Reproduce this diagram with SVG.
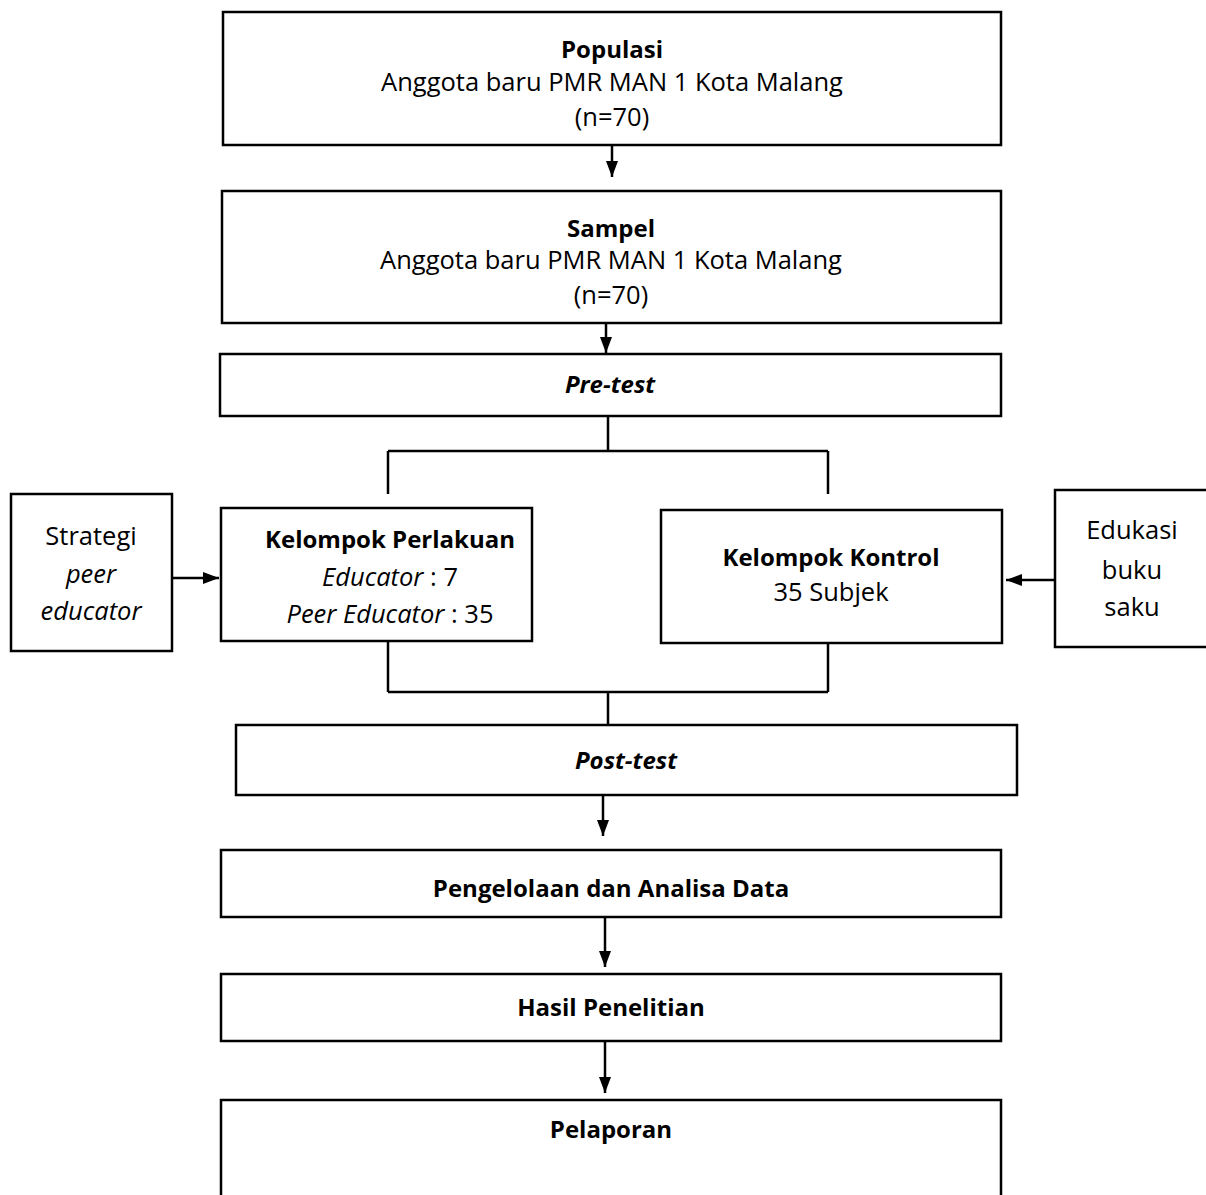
<svg xmlns="http://www.w3.org/2000/svg" width="1206" height="1195" viewBox="0 0 1206 1195">
<defs>
<marker id="ah" viewBox="0 0 16 12" refX="16" refY="6" markerWidth="6.4" markerHeight="4.8" orient="auto" markerUnits="strokeWidth">
<path d="M0,0 L16,6 L0,12 Z" fill="#000"/>
</marker>
<style>
.box{fill:#fff;stroke:#000;stroke-width:2.5}
.ln{fill:none;stroke:#000;stroke-width:2.5}
.ar{fill:none;stroke:#000;stroke-width:2.5;marker-end:url(#ah)}
text{font-family:"Open Sans","Noto Sans","Liberation Sans",sans-serif;font-size:25.5px;fill:#000;text-anchor:middle}
.b{font-weight:bold;font-size:24px}
.i{font-style:italic}
</style>
</defs>
<rect width="1206" height="1195" fill="#fff"/>
<g id="connectors">
<path class="ar" d="M612,145 V177"/>
<path class="ar" d="M606,323 V353"/>
<path class="ln" d="M608,416 V451 M388,451 H828 M388,451 V494 M828,451 V494"/>
<path class="ar" d="M172,578 H219"/>
<path class="ar" d="M1055,580 H1006"/>
<path class="ln" d="M388,641 V692 M828,643 V692 M388,692 H828 M608,692 V725"/>
<path class="ar" d="M603,795 V836"/>
<path class="ar" d="M605,917 V967"/>
<path class="ar" d="M605,1041 V1093"/>
</g>
<g id="populasi">
<rect class="box" x="223" y="12" width="778" height="133"/>
<text class="b" x="612" y="58">Populasi</text>
<text x="612" y="91">Anggota baru PMR MAN 1 Kota Malang</text>
<text x="612" y="126">(n=70)</text>
</g>
<g id="sampel">
<rect class="box" x="222" y="191" width="779" height="132"/>
<text class="b" x="611" y="237">Sampel</text>
<text x="611" y="269">Anggota baru PMR MAN 1 Kota Malang</text>
<text x="611" y="304">(n=70)</text>
</g>
<g id="pretest">
<rect class="box" x="220" y="354" width="781" height="62"/>
<text class="b i" x="610" y="393">Pre-test</text>
</g>
<g id="strategi">
<rect class="box" x="11" y="494" width="161" height="157"/>
<text x="91" y="545">Strategi</text>
<text class="i" x="91" y="583">peer</text>
<text class="i" x="91" y="620">educator</text>
</g>
<g id="perlakuan">
<rect class="box" x="221" y="508" width="311" height="133"/>
<text class="b" x="390" y="548">Kelompok Perlakuan</text>
<text x="390" y="586"><tspan class="i">Educator</tspan> : 7</text>
<text x="390" y="623"><tspan class="i">Peer Educator</tspan> : 35</text>
</g>
<g id="kontrol">
<rect class="box" x="661" y="510" width="341" height="133"/>
<text class="b" x="831" y="566">Kelompok Kontrol</text>
<text x="831" y="601">35 Subjek</text>
</g>
<g id="edukasi">
<rect class="box" x="1055" y="490" width="160" height="157"/>
<text x="1132" y="539">Edukasi</text>
<text x="1132" y="579">buku</text>
<text x="1132" y="616">saku</text>
</g>
<g id="posttest">
<rect class="box" x="236" y="725" width="781" height="70"/>
<text class="b i" x="626" y="769">Post-test</text>
</g>
<g id="pengelolaan">
<rect class="box" x="221" y="850" width="780" height="67"/>
<text class="b" x="611" y="897">Pengelolaan dan Analisa Data</text>
</g>
<g id="hasil">
<rect class="box" x="221" y="974" width="780" height="67"/>
<text class="b" x="611" y="1016">Hasil Penelitian</text>
</g>
<g id="pelaporan">
<rect class="box" x="221" y="1100" width="780" height="120"/>
<text class="b" x="611" y="1138">Pelaporan</text>
</g>
</svg>
